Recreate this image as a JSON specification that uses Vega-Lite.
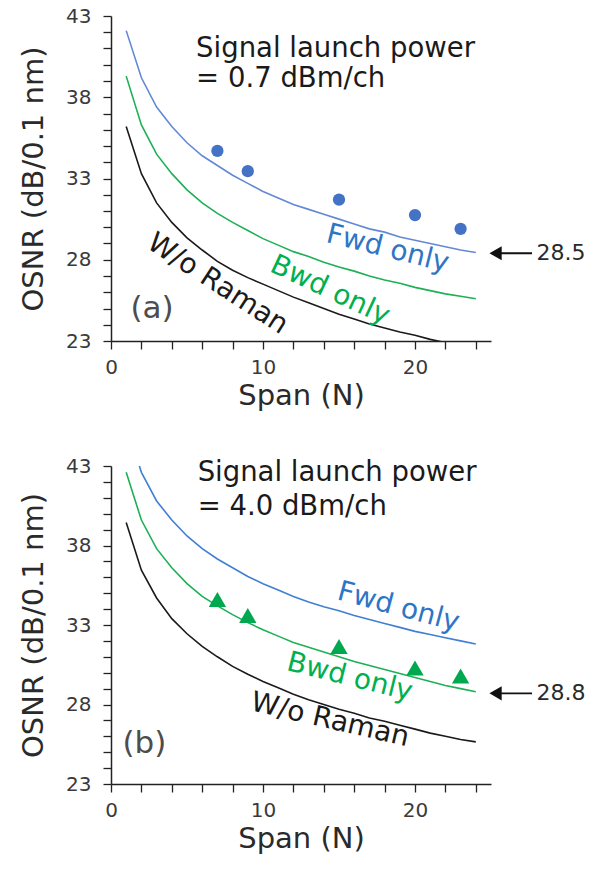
{
  "$schema": "https://vega.github.io/schema/vega-lite/v6.json",
  "padding": {"left": 19, "top": 6, "right": 5, "bottom": 5},
  "spacing": 46,
  "config": {
    "font": "DejaVu Sans",
    "view": {"stroke": null},
    "axis": {
      "grid": false,
      "domainColor": "#222222",
      "domainWidth": 1.5,
      "tickColor": "#222222",
      "tickWidth": 1.3,
      "tickSize": 8,
      "labelFont": "DejaVu Sans",
      "labelFontSize": 20,
      "labelColor": "#3a3a3a",
      "labelFlush": false,
      "labelOverlap": false,
      "titleFont": "DejaVu Sans",
      "titleFontSize": 29,
      "titleFontWeight": "normal",
      "titleColor": "#2a2a2a"
    },
    "axisX": {"labelPadding": 8, "titlePadding": 4},
    "axisY": {"labelPadding": 12, "titlePadding": 17}
  },
  "datasets": {
    "curves": [
      {"panel": "a", "series": "Fwd", "N": 1, "osnr": 42.1},
      {"panel": "a", "series": "Fwd", "N": 2, "osnr": 39.2},
      {"panel": "a", "series": "Fwd", "N": 3, "osnr": 37.4},
      {"panel": "a", "series": "Fwd", "N": 4, "osnr": 36.2},
      {"panel": "a", "series": "Fwd", "N": 5, "osnr": 35.2},
      {"panel": "a", "series": "Fwd", "N": 6, "osnr": 34.4},
      {"panel": "a", "series": "Fwd", "N": 7, "osnr": 33.8},
      {"panel": "a", "series": "Fwd", "N": 8, "osnr": 33.2},
      {"panel": "a", "series": "Fwd", "N": 9, "osnr": 32.7},
      {"panel": "a", "series": "Fwd", "N": 10, "osnr": 32.2},
      {"panel": "a", "series": "Fwd", "N": 11, "osnr": 31.8},
      {"panel": "a", "series": "Fwd", "N": 12, "osnr": 31.4},
      {"panel": "a", "series": "Fwd", "N": 13, "osnr": 31.1},
      {"panel": "a", "series": "Fwd", "N": 14, "osnr": 30.8},
      {"panel": "a", "series": "Fwd", "N": 15, "osnr": 30.5},
      {"panel": "a", "series": "Fwd", "N": 16, "osnr": 30.2},
      {"panel": "a", "series": "Fwd", "N": 17, "osnr": 29.9},
      {"panel": "a", "series": "Fwd", "N": 18, "osnr": 29.7},
      {"panel": "a", "series": "Fwd", "N": 19, "osnr": 29.4},
      {"panel": "a", "series": "Fwd", "N": 20, "osnr": 29.2},
      {"panel": "a", "series": "Fwd", "N": 21, "osnr": 29.0},
      {"panel": "a", "series": "Fwd", "N": 22, "osnr": 28.8},
      {"panel": "a", "series": "Fwd", "N": 23, "osnr": 28.6},
      {"panel": "a", "series": "Fwd", "N": 24, "osnr": 28.45},
      {"panel": "a", "series": "Bwd", "N": 1, "osnr": 39.3},
      {"panel": "a", "series": "Bwd", "N": 2, "osnr": 36.3},
      {"panel": "a", "series": "Bwd", "N": 3, "osnr": 34.5},
      {"panel": "a", "series": "Bwd", "N": 4, "osnr": 33.3},
      {"panel": "a", "series": "Bwd", "N": 5, "osnr": 32.3},
      {"panel": "a", "series": "Bwd", "N": 6, "osnr": 31.5},
      {"panel": "a", "series": "Bwd", "N": 7, "osnr": 30.85},
      {"panel": "a", "series": "Bwd", "N": 8, "osnr": 30.3},
      {"panel": "a", "series": "Bwd", "N": 9, "osnr": 29.8},
      {"panel": "a", "series": "Bwd", "N": 10, "osnr": 29.3},
      {"panel": "a", "series": "Bwd", "N": 11, "osnr": 28.9},
      {"panel": "a", "series": "Bwd", "N": 12, "osnr": 28.5},
      {"panel": "a", "series": "Bwd", "N": 13, "osnr": 28.2},
      {"panel": "a", "series": "Bwd", "N": 14, "osnr": 27.85},
      {"panel": "a", "series": "Bwd", "N": 15, "osnr": 27.55},
      {"panel": "a", "series": "Bwd", "N": 16, "osnr": 27.3},
      {"panel": "a", "series": "Bwd", "N": 17, "osnr": 27.0},
      {"panel": "a", "series": "Bwd", "N": 18, "osnr": 26.75},
      {"panel": "a", "series": "Bwd", "N": 19, "osnr": 26.55},
      {"panel": "a", "series": "Bwd", "N": 20, "osnr": 26.3},
      {"panel": "a", "series": "Bwd", "N": 21, "osnr": 26.1},
      {"panel": "a", "series": "Bwd", "N": 22, "osnr": 25.9},
      {"panel": "a", "series": "Bwd", "N": 23, "osnr": 25.75},
      {"panel": "a", "series": "Bwd", "N": 24, "osnr": 25.6},
      {"panel": "a", "series": "W/o", "N": 1, "osnr": 36.2},
      {"panel": "a", "series": "W/o", "N": 2, "osnr": 33.3},
      {"panel": "a", "series": "W/o", "N": 3, "osnr": 31.5},
      {"panel": "a", "series": "W/o", "N": 4, "osnr": 30.3},
      {"panel": "a", "series": "W/o", "N": 5, "osnr": 29.35},
      {"panel": "a", "series": "W/o", "N": 6, "osnr": 28.6},
      {"panel": "a", "series": "W/o", "N": 7, "osnr": 27.9},
      {"panel": "a", "series": "W/o", "N": 8, "osnr": 27.35},
      {"panel": "a", "series": "W/o", "N": 9, "osnr": 26.9},
      {"panel": "a", "series": "W/o", "N": 10, "osnr": 26.5},
      {"panel": "a", "series": "W/o", "N": 11, "osnr": 26.1},
      {"panel": "a", "series": "W/o", "N": 12, "osnr": 25.7},
      {"panel": "a", "series": "W/o", "N": 13, "osnr": 25.35},
      {"panel": "a", "series": "W/o", "N": 14, "osnr": 25.0},
      {"panel": "a", "series": "W/o", "N": 15, "osnr": 24.65},
      {"panel": "a", "series": "W/o", "N": 16, "osnr": 24.35},
      {"panel": "a", "series": "W/o", "N": 17, "osnr": 24.05},
      {"panel": "a", "series": "W/o", "N": 18, "osnr": 23.8},
      {"panel": "a", "series": "W/o", "N": 19, "osnr": 23.55},
      {"panel": "a", "series": "W/o", "N": 20, "osnr": 23.35},
      {"panel": "a", "series": "W/o", "N": 21, "osnr": 23.1},
      {"panel": "a", "series": "W/o", "N": 22, "osnr": 22.9},
      {"panel": "b", "series": "Fwd", "N": 1, "osnr": 45.6},
      {"panel": "b", "series": "Fwd", "N": 2, "osnr": 42.6},
      {"panel": "b", "series": "Fwd", "N": 3, "osnr": 40.8},
      {"panel": "b", "series": "Fwd", "N": 4, "osnr": 39.6},
      {"panel": "b", "series": "Fwd", "N": 5, "osnr": 38.6},
      {"panel": "b", "series": "Fwd", "N": 6, "osnr": 37.8},
      {"panel": "b", "series": "Fwd", "N": 7, "osnr": 37.15},
      {"panel": "b", "series": "Fwd", "N": 8, "osnr": 36.6},
      {"panel": "b", "series": "Fwd", "N": 9, "osnr": 36.05},
      {"panel": "b", "series": "Fwd", "N": 10, "osnr": 35.6},
      {"panel": "b", "series": "Fwd", "N": 11, "osnr": 35.2},
      {"panel": "b", "series": "Fwd", "N": 12, "osnr": 34.8},
      {"panel": "b", "series": "Fwd", "N": 13, "osnr": 34.45},
      {"panel": "b", "series": "Fwd", "N": 14, "osnr": 34.15},
      {"panel": "b", "series": "Fwd", "N": 15, "osnr": 33.9},
      {"panel": "b", "series": "Fwd", "N": 16, "osnr": 33.6},
      {"panel": "b", "series": "Fwd", "N": 17, "osnr": 33.35},
      {"panel": "b", "series": "Fwd", "N": 18, "osnr": 33.1},
      {"panel": "b", "series": "Fwd", "N": 19, "osnr": 32.85},
      {"panel": "b", "series": "Fwd", "N": 20, "osnr": 32.6},
      {"panel": "b", "series": "Fwd", "N": 21, "osnr": 32.4},
      {"panel": "b", "series": "Fwd", "N": 22, "osnr": 32.2},
      {"panel": "b", "series": "Fwd", "N": 23, "osnr": 32.0},
      {"panel": "b", "series": "Fwd", "N": 24, "osnr": 31.8},
      {"panel": "b", "series": "Bwd", "N": 1, "osnr": 42.6},
      {"panel": "b", "series": "Bwd", "N": 2, "osnr": 39.6},
      {"panel": "b", "series": "Bwd", "N": 3, "osnr": 37.8},
      {"panel": "b", "series": "Bwd", "N": 4, "osnr": 36.6},
      {"panel": "b", "series": "Bwd", "N": 5, "osnr": 35.6},
      {"panel": "b", "series": "Bwd", "N": 6, "osnr": 34.8},
      {"panel": "b", "series": "Bwd", "N": 7, "osnr": 34.2},
      {"panel": "b", "series": "Bwd", "N": 8, "osnr": 33.65},
      {"panel": "b", "series": "Bwd", "N": 9, "osnr": 33.15},
      {"panel": "b", "series": "Bwd", "N": 10, "osnr": 32.7},
      {"panel": "b", "series": "Bwd", "N": 11, "osnr": 32.3},
      {"panel": "b", "series": "Bwd", "N": 12, "osnr": 31.9},
      {"panel": "b", "series": "Bwd", "N": 13, "osnr": 31.6},
      {"panel": "b", "series": "Bwd", "N": 14, "osnr": 31.3},
      {"panel": "b", "series": "Bwd", "N": 15, "osnr": 31.0},
      {"panel": "b", "series": "Bwd", "N": 16, "osnr": 30.7},
      {"panel": "b", "series": "Bwd", "N": 17, "osnr": 30.45},
      {"panel": "b", "series": "Bwd", "N": 18, "osnr": 30.2},
      {"panel": "b", "series": "Bwd", "N": 19, "osnr": 29.95},
      {"panel": "b", "series": "Bwd", "N": 20, "osnr": 29.7},
      {"panel": "b", "series": "Bwd", "N": 21, "osnr": 29.45},
      {"panel": "b", "series": "Bwd", "N": 22, "osnr": 29.2},
      {"panel": "b", "series": "Bwd", "N": 23, "osnr": 29.0},
      {"panel": "b", "series": "Bwd", "N": 24, "osnr": 28.8},
      {"panel": "b", "series": "W/o", "N": 1, "osnr": 39.45},
      {"panel": "b", "series": "W/o", "N": 2, "osnr": 36.45},
      {"panel": "b", "series": "W/o", "N": 3, "osnr": 34.7},
      {"panel": "b", "series": "W/o", "N": 4, "osnr": 33.4},
      {"panel": "b", "series": "W/o", "N": 5, "osnr": 32.45},
      {"panel": "b", "series": "W/o", "N": 6, "osnr": 31.65},
      {"panel": "b", "series": "W/o", "N": 7, "osnr": 31.0},
      {"panel": "b", "series": "W/o", "N": 8, "osnr": 30.4},
      {"panel": "b", "series": "W/o", "N": 9, "osnr": 29.9},
      {"panel": "b", "series": "W/o", "N": 10, "osnr": 29.45},
      {"panel": "b", "series": "W/o", "N": 11, "osnr": 29.05},
      {"panel": "b", "series": "W/o", "N": 12, "osnr": 28.65},
      {"panel": "b", "series": "W/o", "N": 13, "osnr": 28.3},
      {"panel": "b", "series": "W/o", "N": 14, "osnr": 28.0},
      {"panel": "b", "series": "W/o", "N": 15, "osnr": 27.7},
      {"panel": "b", "series": "W/o", "N": 16, "osnr": 27.45},
      {"panel": "b", "series": "W/o", "N": 17, "osnr": 27.15},
      {"panel": "b", "series": "W/o", "N": 18, "osnr": 26.95},
      {"panel": "b", "series": "W/o", "N": 19, "osnr": 26.7},
      {"panel": "b", "series": "W/o", "N": 20, "osnr": 26.45},
      {"panel": "b", "series": "W/o", "N": 21, "osnr": 26.2},
      {"panel": "b", "series": "W/o", "N": 22, "osnr": 26.0},
      {"panel": "b", "series": "W/o", "N": 23, "osnr": 25.8},
      {"panel": "b", "series": "W/o", "N": 24, "osnr": 25.65}
    ],
    "measured": [
      {"panel": "a", "N": 7, "osnr": 34.7},
      {"panel": "a", "N": 9, "osnr": 33.45},
      {"panel": "a", "N": 15, "osnr": 31.7},
      {"panel": "a", "N": 20, "osnr": 30.75},
      {"panel": "a", "N": 23, "osnr": 29.9},
      {"panel": "b", "N": 7, "osnr": 34.6},
      {"panel": "b", "N": 9, "osnr": 33.6},
      {"panel": "b", "N": 15, "osnr": 31.65},
      {"panel": "b", "N": 20, "osnr": 30.3},
      {"panel": "b", "N": 23, "osnr": 29.8}
    ]
  },
  "resolve": {"scale": {"color": "independent"}},
  "vconcat": [
    {
      "width": 380,
      "height": 325,
      "encoding": {
        "x": {"field": "N", "type": "quantitative", "scale": {"domain": [0, 25], "nice": false, "zero": false},
              "axis": {"title": "Span (N)", "values": [0, 2, 4, 6, 8, 10, 12, 14, 16, 18, 20, 22, 24], "labelExpr": "datum.value % 10 == 0 ? datum.label : ''"}},
        "y": {"field": "osnr", "type": "quantitative", "scale": {"domain": [23, 43], "nice": false, "zero": false},
              "axis": {"title": "OSNR (dB/0.1 nm)", "values": [23, 24, 25, 26, 27, 28, 29, 30, 31, 32, 33, 34, 35, 36, 37, 38, 39, 40, 41, 42, 43], "labelExpr": "(datum.value - 23) % 5 == 0 ? datum.label : ''"}}
      },
      "layer": [
        {
          "data": {"name": "curves"},
          "transform": [{"filter": "datum.panel == 'a'"}],
          "mark": {"type": "line", "clip": true, "strokeWidth": 1.6},
          "encoding": {
            "color": {"field": "series", "type": "nominal", "scale": {"domain": ["Fwd", "Bwd", "W/o"], "range": ["#6389D6", "#1DB055", "#1a1a1a"]}, "legend": null}
          }
        },
        {
          "data": {"name": "measured"},
          "transform": [{"filter": "datum.panel == 'a'"}],
          "mark": {"type": "point", "shape": "circle", "filled": true, "opacity": 1, "size": 150, "color": "#4472C4"}
        },
        {
          "data": {"values": [{"N": 5.6, "osnr": 41.0, "t": "Signal launch power"}, {"N": 5.6, "osnr": 39.1, "t": "= 0.7 dBm/ch"}]},
          "mark": {"type": "text", "align": "left", "baseline": "middle", "fontSize": 27.5, "color": "#1a1a1a"},
          "encoding": {"text": {"field": "t"}}
        },
        {
          "data": {"values": [{"N": 18.2, "osnr": 28.65, "t": "Fwd only"}]},
          "mark": {"type": "text", "align": "center", "baseline": "middle", "fontSize": 28, "angle": 14, "color": "#2E75C6"},
          "encoding": {"text": {"field": "t"}}
        },
        {
          "data": {"values": [{"N": 14.4, "osnr": 26.1, "t": "Bwd only"}]},
          "mark": {"type": "text", "align": "center", "baseline": "middle", "fontSize": 28, "angle": 25, "color": "#00B050"},
          "encoding": {"text": {"field": "t"}}
        },
        {
          "data": {"values": [{"N": 7.0, "osnr": 26.5, "t": "W/o Raman"}]},
          "mark": {"type": "text", "align": "center", "baseline": "middle", "fontSize": 28, "angle": 33, "color": "#1a1a1a"},
          "encoding": {"text": {"field": "t"}}
        },
        {
          "data": {"values": [{"N": 2.7, "osnr": 25.0, "t": "(a)"}]},
          "mark": {"type": "text", "align": "center", "baseline": "middle", "fontSize": 31, "color": "#4d4d4d"},
          "encoding": {"text": {"field": "t"}}
        },
        {
          "data": {"values": [{"N": 25.3, "N2": 27.7, "osnr": 28.4}]},
          "mark": {"type": "rule", "color": "#111111", "strokeWidth": 1.8, "clip": false},
          "encoding": {"x2": {"field": "N2"}}
        },
        {
          "data": {"values": [{"N": 25.3, "osnr": 28.4}]},
          "mark": {"type": "point", "shape": "triangle-left", "filled": true, "opacity": 1, "size": 200, "color": "#111111", "clip": false}
        },
        {
          "data": {"values": [{"N": 28.0, "osnr": 28.4, "t": "28.5"}]},
          "mark": {"type": "text", "align": "left", "baseline": "middle", "fontSize": 22, "color": "#2a2a2a"},
          "encoding": {"text": {"field": "t"}}
        }
      ]
    },
    {
      "width": 380,
      "height": 318,
      "encoding": {
        "x": {"field": "N", "type": "quantitative", "scale": {"domain": [0, 25], "nice": false, "zero": false},
              "axis": {"title": "Span (N)", "values": [0, 2, 4, 6, 8, 10, 12, 14, 16, 18, 20, 22, 24], "labelExpr": "datum.value % 10 == 0 ? datum.label : ''"}},
        "y": {"field": "osnr", "type": "quantitative", "scale": {"domain": [23, 43], "nice": false, "zero": false},
              "axis": {"title": "OSNR (dB/0.1 nm)", "values": [23, 24, 25, 26, 27, 28, 29, 30, 31, 32, 33, 34, 35, 36, 37, 38, 39, 40, 41, 42, 43], "labelExpr": "(datum.value - 23) % 5 == 0 ? datum.label : ''"}}
      },
      "layer": [
        {
          "data": {"name": "curves"},
          "transform": [{"filter": "datum.panel == 'b'"}],
          "mark": {"type": "line", "clip": true, "strokeWidth": 1.6},
          "encoding": {
            "color": {"field": "series", "type": "nominal", "scale": {"domain": ["Fwd", "Bwd", "W/o"], "range": ["#3F7FD6", "#1DB055", "#1a1a1a"]}, "legend": null}
          }
        },
        {
          "data": {"name": "measured"},
          "transform": [{"filter": "datum.panel == 'b'"}],
          "mark": {"type": "point", "shape": "triangle-up", "filled": true, "opacity": 1, "size": 300, "color": "#00A84F"}
        },
        {
          "data": {"values": [{"N": 5.7, "osnr": 42.55, "t": "Signal launch power"}, {"N": 5.7, "osnr": 40.45, "t": "= 4.0 dBm/ch"}]},
          "mark": {"type": "text", "align": "left", "baseline": "middle", "fontSize": 27.5, "color": "#1a1a1a"},
          "encoding": {"text": {"field": "t"}}
        },
        {
          "data": {"values": [{"N": 18.9, "osnr": 34.1, "t": "Fwd only"}]},
          "mark": {"type": "text", "align": "center", "baseline": "middle", "fontSize": 28, "angle": 15, "color": "#2E75C6"},
          "encoding": {"text": {"field": "t"}}
        },
        {
          "data": {"values": [{"N": 15.7, "osnr": 29.7, "t": "Bwd only"}]},
          "mark": {"type": "text", "align": "center", "baseline": "middle", "fontSize": 28, "angle": 14, "color": "#00B050"},
          "encoding": {"text": {"field": "t"}}
        },
        {
          "data": {"values": [{"N": 14.4, "osnr": 27.0, "t": "W/o Raman"}]},
          "mark": {"type": "text", "align": "center", "baseline": "middle", "fontSize": 28, "angle": 13, "color": "#1a1a1a"},
          "encoding": {"text": {"field": "t"}}
        },
        {
          "data": {"values": [{"N": 2.2, "osnr": 25.5, "t": "(b)"}]},
          "mark": {"type": "text", "align": "center", "baseline": "middle", "fontSize": 31, "color": "#4d4d4d"},
          "encoding": {"text": {"field": "t"}}
        },
        {
          "data": {"values": [{"N": 25.3, "N2": 27.7, "osnr": 28.7}]},
          "mark": {"type": "rule", "color": "#111111", "strokeWidth": 1.8, "clip": false},
          "encoding": {"x2": {"field": "N2"}}
        },
        {
          "data": {"values": [{"N": 25.3, "osnr": 28.7}]},
          "mark": {"type": "point", "shape": "triangle-left", "filled": true, "opacity": 1, "size": 200, "color": "#111111", "clip": false}
        },
        {
          "data": {"values": [{"N": 28.0, "osnr": 28.7, "t": "28.8"}]},
          "mark": {"type": "text", "align": "left", "baseline": "middle", "fontSize": 22, "color": "#2a2a2a"},
          "encoding": {"text": {"field": "t"}}
        }
      ]
    }
  ]
}
